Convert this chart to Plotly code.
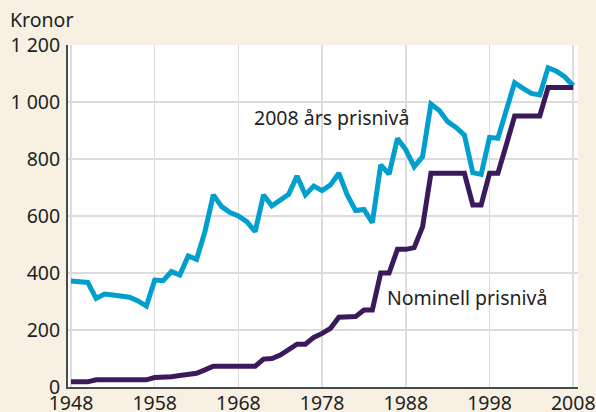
import plotly.graph_objects as go

years = list(range(1948, 2009))

real_2008 = [372, 370, 367, 311, 326, 323, 320, 315, 302, 284,
             375, 373, 405, 393, 460, 448, 545, 674, 633, 612,
             600, 580, 545, 674, 636, 654, 676, 740, 674, 705,
             689, 709, 750, 674, 619, 623, 577, 779, 747, 872,
             832, 773, 808, 993, 970, 931, 911, 884, 752, 746,
             876, 873, 972, 1068, 1048, 1030, 1025, 1120, 1108, 1088,
             1057]

nominal = [18, 18, 18, 25, 25, 25, 25, 25, 25, 25,
           33, 33, 36, 40, 46, 48, 60, 73, 73, 73,
           73, 73, 73, 98, 100, 112, 130, 150, 150, 174,
           188, 206, 245, 247, 247, 270, 270, 400, 400, 483,
           483, 489, 562, 750, 750, 750, 750, 750, 639, 639,
           750, 750, 849, 951, 951, 951, 951, 1051, 1051, 1051,
           1051]

y_ticks = [0, 200, 400, 600, 800, 1000, 1200]
y_labels = ["0", "200", "400", "600", "800", "1 000", "1 200"]
x_ticks = [1948, 1958, 1968, 1978, 1988, 1998, 2008]
x_labels = ["1948", "1958", "1968", "1978", "1988", "1998", "2008"]

BLUE = "#019fcd"
PURPLE = "#3c195c"
FONT = "Noto Sans"
FS = 19.5

fig = go.Figure()
fig.add_trace(go.Scatter(x=years, y=real_2008, mode="lines",
                         line=dict(color=BLUE, width=5), hoverinfo="skip"))
fig.add_trace(go.Scatter(x=years, y=nominal, mode="lines",
                         line=dict(color=PURPLE, width=5), hoverinfo="skip"))

fig.update_layout(
    template="none",
    width=596, height=412,
    margin=dict(l=68, r=18, t=45, b=25, autoexpand=False),
    paper_bgcolor="#f8f0e3",
    plot_bgcolor="#ffffff",
    showlegend=False,
    font=dict(family=FONT, size=FS, color="#231f20"),
    xaxis=dict(range=[1947.64, 2008.57], tickvals=x_ticks, ticktext=x_labels,
               showgrid=True, gridcolor="#dcdcdc", gridwidth=1.5,
               showline=True, linecolor="#4a4a4a", linewidth=2,
               ticks="", ticklabelstandoff=-2,
               zeroline=False, tickfont=dict(size=FS),
               automargin=False, fixedrange=True),
    yaxis=dict(range=[0, 1200], tickvals=y_ticks, ticktext=y_labels,
               showgrid=True, gridcolor="#dcdcdc", gridwidth=1.5,
               showline=True, linecolor="#4a4a4a", linewidth=2,
               ticks="outside", ticklen=2, tickcolor="rgba(0,0,0,0)",
               zeroline=False, tickfont=dict(size=FS),
               automargin=False, fixedrange=True),
    annotations=[
        dict(text="Kronor", xref="paper", yref="paper", x=-0.118, y=1.0,
             yshift=26, xanchor="left", yanchor="middle", showarrow=False,
             font=dict(size=FS)),
        dict(text="2008 års prisnivå", xref="x", yref="y", x=1969.6, y=945,
             xanchor="left", yanchor="middle", showarrow=False,
             font=dict(size=FS)),
        dict(text="Nominell prisnivå", xref="x", yref="y", x=1985.5, y=315,
             xanchor="left", yanchor="middle", showarrow=False,
             font=dict(size=FS)),
    ],
)

fig.write_html("out.html",
               config={"displayModeBar": False, "staticPlot": True},
               post_script="document.body.style.margin='0';"
                           "document.body.style.background='#f8f0e3';")
